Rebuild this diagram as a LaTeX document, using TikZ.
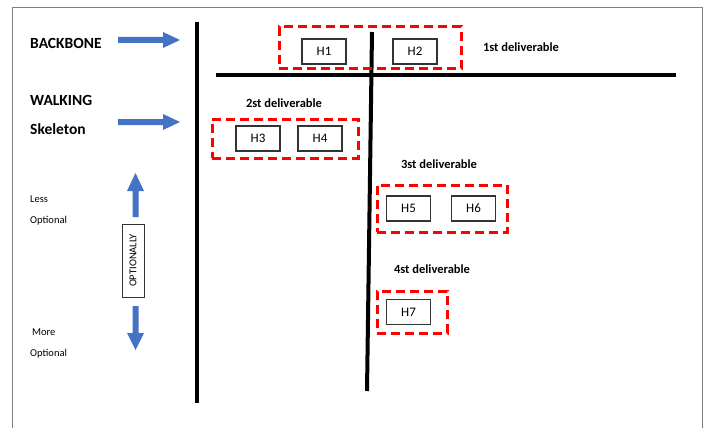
\documentclass[tikz,border=0pt]{standalone}
\usepackage{fontspec}
\setmainfont{Carlito}
\definecolor{arrowblue}{HTML}{4472C4}
\definecolor{framegray}{HTML}{7F7F7F}
\tikzset{
  hbox/.style={draw=black!80, line width=1.2pt, minimum width=44pt, minimum height=25pt, inner sep=0pt, font=\fontsize{13}{15}\selectfont},
  grp/.style={draw=red, line width=3pt, dash pattern=on 9pt off 5pt, inner sep=0pt},
  dlabel/.style={font=\fontsize{12.5}{14}\selectfont\bfseries},
  biglabel/.style={font=\fontsize{15.5}{17}\selectfont\bfseries, anchor=west, inner sep=0pt},
  smalllabel/.style={font=\fontsize{10.5}{12}\selectfont, anchor=west, inner sep=0pt},
  axis/.style={line width=4pt, black},
  blockarrow/.style={fill=arrowblue, draw=none}
}
\begin{document}
\begin{tikzpicture}[x=1pt,y=-1pt]
\useasboundingbox (0,0) rectangle (707,428);
% frame
\draw[framegray, line width=1pt] (12.5,428) -- (12.5,8) -- (702,8) -- (702,428);
% axes
\draw[axis] (197,22) -- (197,403);
\draw[axis] (216,75) -- (676,75);
\draw[axis] (372,32) -- (367,391);
% groups
\node[grp, minimum width=182pt, minimum height=42pt] (g1) at (370,48) {};
\node[grp, minimum width=146pt, minimum height=39pt] (g2) at (285,138.5) {};
\node[grp, minimum width=130pt, minimum height=47pt] (g3) at (442,208.5) {};
\node[grp, minimum width=70pt, minimum height=42pt] (g4) at (412,312) {};
% H boxes
\node[hbox] (h1) at (324,51.5) {H1};
\node[hbox] (h2) at (415,51.5) {H2};
\node[hbox] (h3) at (258,138.5) {H3};
\node[hbox] (h4) at (320,138.5) {H4};
\node[hbox] (h5) at (408.5,208.5) {H5};
\node[hbox] (h6) at (473.5,208.5) {H6};
\node[hbox] (h7) at (408.5,312) {H7};
% deliverable labels
\node[dlabel] (d1) at (521,47) {1st deliverable};
\node[dlabel] (d2) at (284,103) {2st deliverable};
\node[dlabel] (d3) at (439,164) {3st deliverable};
\node[dlabel] (d4) at (432,269) {4st deliverable};
% left labels
\node[biglabel] (bb) at (30,43) {BACKBONE};
\node[biglabel] (wk) at (30,100) {WALKING};
\node[biglabel] (sk) at (30,129) {Skeleton};
\node[smalllabel] (l1) at (30,199) {Less};
\node[smalllabel] (l2) at (30,221) {Optional};
\node[smalllabel] (m1) at (32,332) {More};
\node[smalllabel] (m2) at (30,354) {Optional};
% block arrows
\fill[blockarrow] (118,37) -- (163,37) -- (163,32) -- (180,40) -- (163,48) -- (163,43) -- (118,43) -- cycle;
\fill[blockarrow] (118,119) -- (163,119) -- (163,114) -- (180,122) -- (163,130) -- (163,125) -- (118,125) -- cycle;
\fill[blockarrow] (132.5,217) -- (132.5,191) -- (127,191) -- (135.5,173) -- (144,191) -- (138.5,191) -- (138.5,217) -- cycle;
\fill[blockarrow] (132.5,306) -- (132.5,333) -- (127,333) -- (135.5,350) -- (144,333) -- (138.5,333) -- (138.5,306) -- cycle;
% optionally box
\node[draw=black!80, line width=1pt, minimum width=73pt, minimum height=22pt, inner sep=0pt, rotate=90, font=\fontsize{10.5}{12}\selectfont] (opt) at (133,260.5) {OPTIONALLY};
\end{tikzpicture}
\end{document}
